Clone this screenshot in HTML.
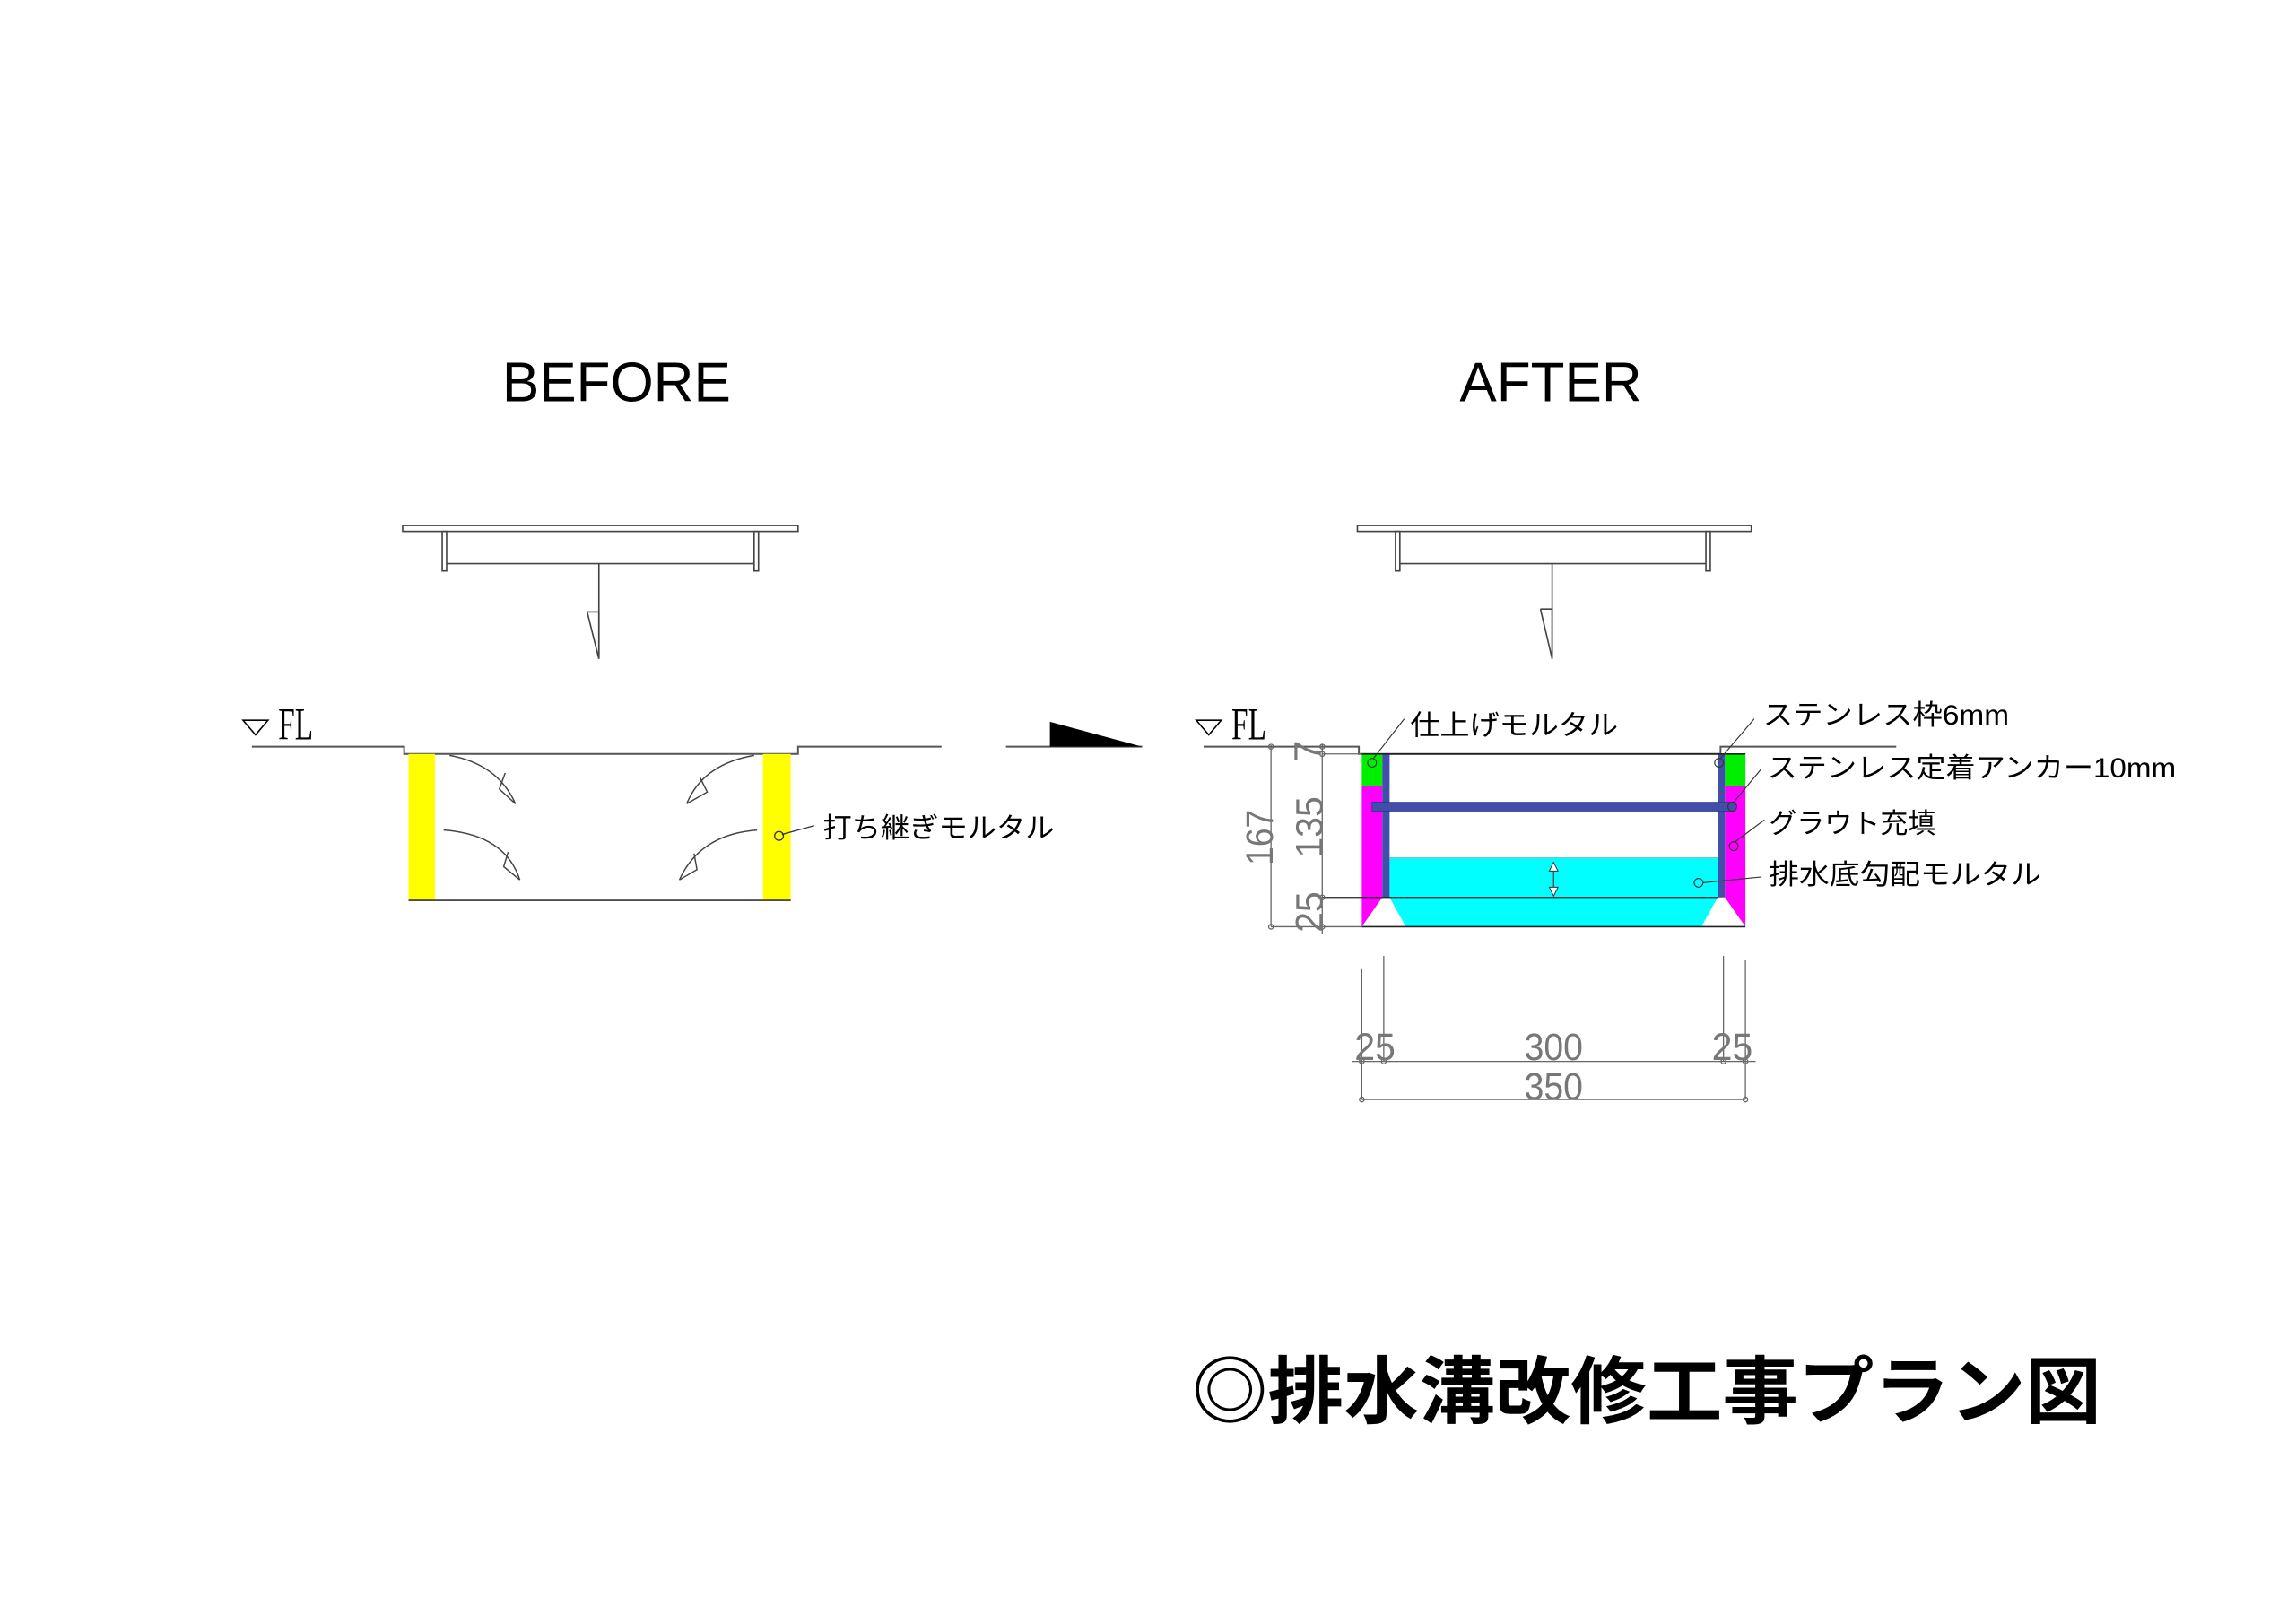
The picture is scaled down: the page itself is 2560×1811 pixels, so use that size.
<!DOCTYPE html>
<html><head><meta charset="utf-8"><style>
html,body{margin:0;padding:0;background:#fff;}
svg{display:block;}
text{font-family:"Liberation Sans","Noto Sans CJK JP",sans-serif;}
</style></head><body>
<svg width="2560" height="1811" viewBox="0 0 1568 1109.3" preserveAspectRatio="none" xmlns="http://www.w3.org/2000/svg">
<rect width="1568" height="1110" fill="#fff"/>
<text x="421" y="274" font-size="38" text-anchor="middle" fill="#000">BEFORE</text>
<text x="1059" y="274" font-size="38" text-anchor="middle" fill="#000">AFTER</text>

<g fill="none" stroke="#444" stroke-width="1">
<rect x="275" y="359" width="270" height="4"/>
<rect x="302" y="363" width="3" height="27"/>
<rect x="515" y="363" width="3" height="27"/>
<line x1="305" y1="385" x2="515" y2="385"/>
<line x1="409" y1="385" x2="409" y2="450"/>
<polyline points="401,418 409,418 409,450 401,418"/>
</g>
<path d="M166,492 L183,492 L174.5,502 Z" fill="none" stroke="#000" stroke-width="1"/>
<text transform="translate(190,505) scale(0.85,1.3)" font-size="24" style="font-family:'Liberation Serif',serif" fill="#000">FL</text>
<polyline points="172,510 276,510 276,515 545,515 545,510 643,510" fill="none" stroke="#555" stroke-width="1.2"/>
<line x1="687" y1="510" x2="780" y2="510" stroke="#555" stroke-width="1.2"/>
<path d="M717,493 L780,510 L717,510 Z" fill="#000"/>
<rect x="279" y="515" width="18" height="100" fill="#ffff00"/>
<rect x="521" y="515" width="19" height="100" fill="#ffff00"/>
<line x1="279" y1="615" x2="540" y2="615" stroke="#333" stroke-width="1"/>
<g fill="none" stroke="#444" stroke-width="0.9">
<path d="M307,516 Q340,522 352,549"/><path d="M352,549 L341,539 L345,528"/>
<path d="M303,567 Q345,570 355,601"/><path d="M355,601 L344,592 L347,582"/>
<path d="M515,516 Q480,522 469,549"/><path d="M469,549 L483,541 L478,531"/>
<path d="M517,567 Q478,570 464,601"/><path d="M464,601 L476,594 L474,583"/>
</g>
<circle cx="532" cy="571" r="3" fill="none" stroke="#333" stroke-width="0.8"/>
<line x1="534" y1="570" x2="556" y2="564" stroke="#333" stroke-width="0.8"/>
<text x="562" y="572" font-size="19" fill="#000" textLength="158" lengthAdjust="spacingAndGlyphs">打ち継ぎモルタル</text>

<g fill="none" stroke="#444" stroke-width="1">
<rect x="927" y="359" width="269" height="4"/>
<rect x="953" y="363" width="3" height="27"/>
<rect x="1165" y="363" width="3" height="27"/>
<line x1="956" y1="385" x2="1165" y2="385"/>
<line x1="1060" y1="385" x2="1060" y2="450"/>
<polyline points="1052,416 1060,416 1060,450 1052,416"/>
</g>
<path d="M817,492 L834,492 L825.5,502 Z" fill="none" stroke="#000" stroke-width="1"/>
<text transform="translate(841,505) scale(0.85,1.3)" font-size="24" style="font-family:'Liberation Serif',serif" fill="#000">FL</text>
<polyline points="822,510 928,510 928,515 1175,515 1175,510 1295,510" fill="none" stroke="#555" stroke-width="1.2"/>
<path d="M949,586 L1173,586 L1173,613 L1162,633 L960,633 L949,613 Z" fill="#00ffff"/>
<path d="M930,537 L944,537 L944,613 L930,633 Z" fill="#ff00ff"/>
<path d="M1178,537 L1192,537 L1192,633 L1178,613 Z" fill="#ff00ff"/>
<rect x="930" y="515" width="14" height="22" fill="#00ee00"/>
<rect x="1178" y="515" width="14" height="22" fill="#00ee00"/>
<rect x="944" y="515" width="5" height="98" fill="#4050a8"/>
<rect x="1173" y="515" width="5" height="98" fill="#4050a8"/>
<rect x="937" y="548" width="248" height="6" fill="#4050a8" stroke="#2a3380" stroke-width="0.5"/>
<line x1="930" y1="515" x2="1192" y2="515" stroke="#222" stroke-width="1"/>
<line x1="930" y1="633" x2="1192" y2="633" stroke="#222" stroke-width="1"/>
<line x1="903" y1="613" x2="1173" y2="613" stroke="#222" stroke-width="0.8"/>
<line x1="949" y1="586" x2="1173" y2="586" stroke="#6cc" stroke-width="0.8"/>
<line x1="1061" y1="590" x2="1061" y2="612" stroke="#333" stroke-width="0.7"/>
<path d="M1058,595 L1061,589 L1064,595 Z M1058,606 L1061,612 L1064,606 Z" fill="#fff" stroke="#333" stroke-width="0.6"/>
<g stroke="#666" stroke-width="0.8" fill="none">
<line x1="868" y1="509" x2="868" y2="633"/>
<line x1="903" y1="508" x2="903" y2="638"/>
<line x1="868" y1="633" x2="930" y2="633"/>
<line x1="903" y1="515" x2="930" y2="515"/>
<circle cx="868" cy="510" r="1.6"/><circle cx="868" cy="633" r="1.6"/>
<circle cx="903" cy="510" r="1.6"/><circle cx="903" cy="515" r="1.6"/>
<circle cx="903" cy="613" r="1.6"/><circle cx="903" cy="633" r="1.6"/>
</g>
<g fill="#777" font-size="26">
<text transform="translate(869,572) rotate(-90)" text-anchor="middle" textLength="38" lengthAdjust="spacingAndGlyphs">167</text>
<text transform="translate(903,565) rotate(-90)" text-anchor="middle" textLength="42" lengthAdjust="spacingAndGlyphs">135</text>
<text transform="translate(903,623) rotate(-90)" text-anchor="middle" textLength="28" lengthAdjust="spacingAndGlyphs">25</text>
<text transform="translate(902,513) rotate(-90)" text-anchor="middle">7</text>
</g>
<g stroke="#666" stroke-width="0.8" fill="none">
<line x1="930" y1="662" x2="930" y2="751"/>
<line x1="945" y1="653" x2="945" y2="725"/>
<line x1="1177" y1="653" x2="1177" y2="725"/>
<line x1="1192" y1="656" x2="1192" y2="751"/>
<line x1="923" y1="725" x2="1199" y2="725"/>
<line x1="930" y1="751" x2="1192" y2="751"/>
<circle cx="930" cy="725" r="1.6"/><circle cx="945" cy="725" r="1.6"/>
<circle cx="1177" cy="725" r="1.6"/><circle cx="1192" cy="725" r="1.6"/>
<circle cx="930" cy="751" r="1.6"/><circle cx="1192" cy="751" r="1.6"/>
</g>
<g fill="#777" font-size="26" text-anchor="middle">
<text x="939" y="724" textLength="28" lengthAdjust="spacingAndGlyphs">25</text>
<text x="1061" y="724" textLength="40" lengthAdjust="spacingAndGlyphs">300</text>
<text x="1183" y="724" textLength="28" lengthAdjust="spacingAndGlyphs">25</text>
<text x="1061" y="751" textLength="40" lengthAdjust="spacingAndGlyphs">350</text>
</g>
<g stroke="#333" stroke-width="0.7" fill="none">
<circle cx="937" cy="521" r="3"/><line x1="938" y1="518" x2="959" y2="491"/>
<circle cx="1174" cy="521" r="3"/><line x1="1175" y1="518" x2="1198" y2="491"/>
<circle cx="1183" cy="551" r="3"/><line x1="1184" y1="548" x2="1203" y2="525"/>
<circle cx="1184" cy="578" r="3"/><line x1="1185" y1="575" x2="1205" y2="560"/>
<circle cx="1160" cy="603" r="3"/><line x1="1163" y1="603" x2="1203" y2="599"/>
</g>
<g fill="#000" font-size="19">
<text x="963" y="502" textLength="142" lengthAdjust="spacingAndGlyphs">仕上げモルタル</text>
<text x="1204" y="495" textLength="168" lengthAdjust="spacingAndGlyphs">ステンレス枠6mm</text>
<text x="1207" y="531" textLength="279" lengthAdjust="spacingAndGlyphs">ステンレス定着アンカー10mm</text>
<text x="1208" y="569" textLength="114" lengthAdjust="spacingAndGlyphs">グラウト充填</text>
<text x="1208" y="604" textLength="186" lengthAdjust="spacingAndGlyphs">排水底勾配モルタル</text>
</g>
<text x="814" y="968" font-size="50" font-weight="600" fill="#000" textLength="621" lengthAdjust="spacingAndGlyphs">◎排水溝改修工事プラン図</text>
</svg>
</body></html>
